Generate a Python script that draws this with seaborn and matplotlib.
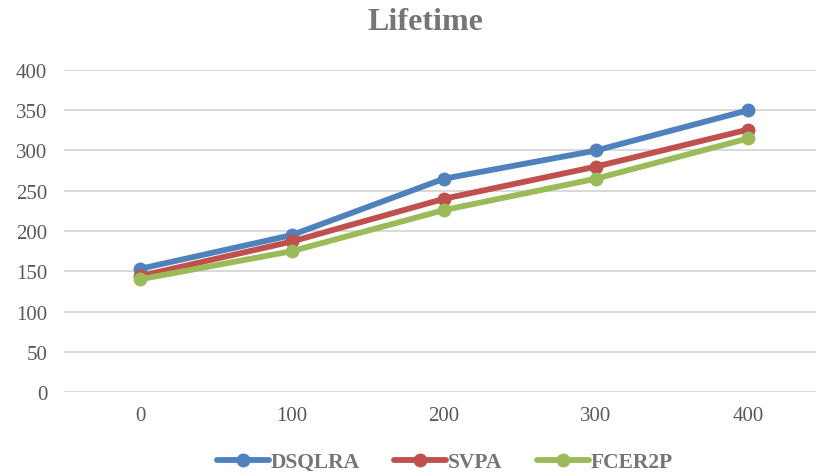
import matplotlib
matplotlib.use("Agg")
import matplotlib.pyplot as plt
import seaborn as sns
import pandas as pd

# Lifetime of each scheme versus the x-axis parameter
x_values = [0, 100, 200, 300, 400]
dsqlra = [153, 195, 265, 300, 350]
svpa = [144, 187, 240, 280, 326]
fcer2p = [140, 175, 226, 265, 315]
series_names = ["DSQLRA", "SVPA", "FCER2P"]
y_ticks = [0, 50, 100, 150, 200, 250, 300, 350, 400]

colors = ["#4F81BD", "#C0504D", "#9BBB59"]
text_gray = "#595959"

df = pd.DataFrame({
    "x": x_values * 3,
    "value": dsqlra + svpa + fcer2p,
    "series": [s for s in series_names for _ in x_values],
})

sns.set_theme(style="white")
plt.rcParams["font.family"] = ["Liberation Serif", "DejaVu Serif"]

fig = plt.figure(figsize=(8.17, 4.77), dpi=100)
ax = fig.add_axes([64 / 817, 1 - 393 / 477, (816 - 64) / 817, (393 - 71) / 477])

sns.lineplot(
    data=df, x="x", y="value", hue="series", hue_order=series_names,
    palette=colors, marker="o", markersize=10, markeredgewidth=0,
    linewidth=4.2, ax=ax, legend=True, zorder=3,
)

ax.set_xlim(-50, 444.7)
ax.set_ylim(0, 400)
ax.set_yticks(y_ticks)
ax.set_xticks(x_values)
ax.set_xticklabels([str(v) for v in x_values])
ax.yaxis.grid(True, color="#D9D9D9", linewidth=1.4)
ax.xaxis.grid(False)
ax.set_axisbelow(True)
for s in ax.spines.values():
    s.set_visible(False)
ax.tick_params(axis="both", length=0, labelsize=15, labelcolor=text_gray)
ax.tick_params(axis="y", pad=12)
ax.tick_params(axis="x", pad=10)
ax.set_xlabel("")
ax.set_ylabel("")

fig.text(425 / 817, 1 - 23 / 477, "Lifetime", ha="center", va="center",
         fontsize=23, fontweight="bold", color="#757575")

handles, labels = ax.get_legend_handles_labels()
ax.legend(handles, labels, loc="center", bbox_to_anchor=(445 / 817, 1 - 463 / 477),
          bbox_transform=fig.transFigure, ncol=3, frameon=False,
          prop={"size": 15.5, "weight": "bold"}, labelcolor="#757575",
          handlelength=2.4, handletextpad=0.1, columnspacing=1.6)

fig.savefig("out.png", dpi=100)
